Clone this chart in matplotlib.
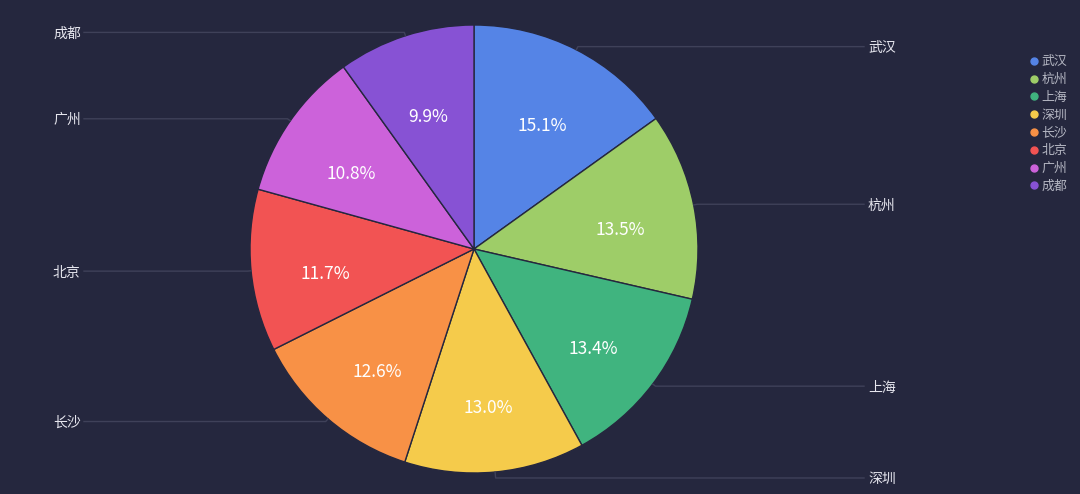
import numpy as np
import matplotlib.pyplot as plt
from matplotlib.lines import Line2D

plt.rcParams['font.family'] = ['Noto Sans CJK SC', 'DejaVu Sans']

cities = ["武汉", "杭州", "上海", "深圳", "长沙", "北京", "广州", "成都"]
shares = [15.1, 13.5, 13.4, 13.0, 12.6, 11.7, 10.8, 9.9]
colors = ["#5584e6", "#9ecd68", "#40b47f", "#f5cb4b", "#f89146", "#f25353", "#cc62da", "#8752d4"]

bg = "#25273e"
W, H = 1080, 494
cx, cy, r = 474, H - 249, 224

fig = plt.figure(figsize=(W / 100, H / 100), dpi=100, facecolor=bg)
ax = fig.add_axes([0, 0, 1, 1])
ax.set_facecolor(bg)

wedges, texts, autotexts = ax.pie(
    shares, colors=colors, startangle=90, counterclock=False,
    center=(cx, cy), radius=r, autopct="%.1f%%", pctdistance=0.666,
    wedgeprops=dict(edgecolor=bg, linewidth=1),
    textprops=dict(color="white", fontsize=12.5),
)
# nudge the percentage labels down a little, like the original
for t in autotexts:
    x, y = t.get_position()
    t.set_position((x, y - 10))

ax.set_xlim(0, W)
ax.set_ylim(0, H)
ax.axis("off")

# leader lines and outer labels
line_col = "#3f4159"
cum = np.cumsum([0] + shares[:-1])
for name, start, val in zip(cities, cum, shares):
    ang = np.deg2rad(90 - (start + val / 2) * 3.6)
    ext = 6 if np.sin(ang) < -0.95 else 3.5
    px, py = cx + r * np.cos(ang), cy + r * np.sin(ang)
    qx, qy = cx + (r + ext) * np.cos(ang), cy + (r + ext) * np.sin(ang)
    if np.cos(ang) >= 0:
        ax.plot([px, qx, 864], [py, qy, qy], color=line_col, lw=1)
        ax.text(868, qy - 1.5, name, color="#e6e6ee", fontsize=10, va="center", ha="left")
    else:
        ax.plot([px, qx, 84], [py, qy, qy], color=line_col, lw=1)
        ax.text(53, qy - 1.5, name, color="#e6e6ee", fontsize=10, va="center", ha="left")

handles = [Line2D([0], [0], marker="o", linestyle="", markersize=5,
                  markerfacecolor=c, markeredgecolor=c) for c in colors]
leg = ax.legend(handles, cities, loc="upper left", bbox_to_anchor=(1022 / W, 1 - 49 / H),
                frameon=False, fontsize=9.3, labelcolor="#b4b6c2", handlelength=0.8,
                handletextpad=0.2, labelspacing=0.37, borderpad=0)

fig.savefig("out.png", dpi=100, facecolor=bg)
